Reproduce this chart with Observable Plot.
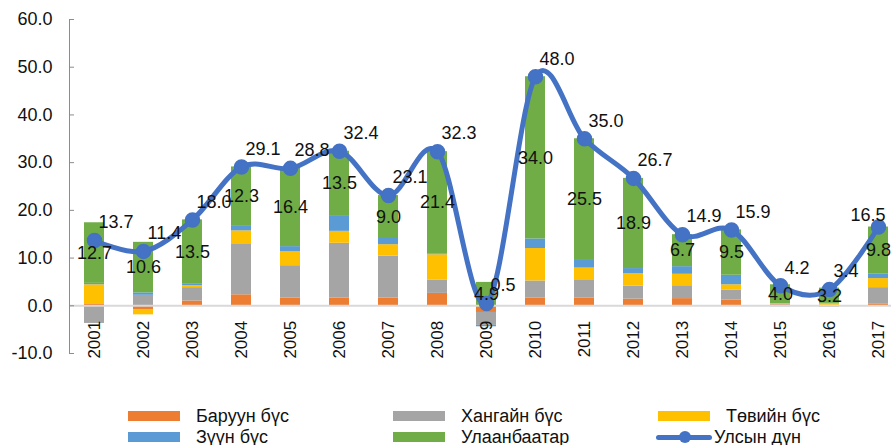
<!DOCTYPE html>
<html>
<head>
<meta charset="utf-8">
<script src="https://cdn.jsdelivr.net/npm/d3@7"></script>
<script src="https://cdn.jsdelivr.net/npm/@observablehq/plot@0.6"></script>
<style>
  html, body { margin: 0; padding: 0; background: #fff; overflow: hidden; }
  #wrap { position: relative; width: 891px; height: 445px; font-family: "Liberation Sans", Arial, sans-serif; }
  #legend .item { position: absolute; font-size: 18px; color: #111; white-space: nowrap; line-height: 18px; }
  #legend .sw { position: absolute; }
</style>
</head>
<body>
<div id="wrap"><div id="chart"></div><div id="legend"></div></div>
<script>
const years = ["2001","2002","2003","2004","2005","2006","2007","2008","2009","2010","2011","2012","2013","2014","2015","2016","2017"];
const regions = ["Баруун бүс", "Хангайн бүс", "Төвийн бүс", "Зүүн бүс", "Улаанбаатар"];
const colors = ["#ED7D31", "#A5A5A5", "#FFC000", "#5B9BD5", "#70AD47"];
const lineName = "Улсын дүн";
const lineColor = "#4472C4";

const baruun  = [0.4, -0.9, 1.0, 2.3, 1.6, 1.6, 1.6, 2.6, -1.4, 1.6, 1.6, 1.4, 1.5, 1.2, 0.2, 0.1, 0.4];
const khangai = [-3.7, 2.2, 2.8, 10.7, 6.8, 11.5, 8.8, 2.8, -2.7, 3.6, 3.7, 2.7, 2.7, 2.1, 0.1, -0.3, 3.4];
const tov     = [4.0, -1.0, 0.4, 2.7, 2.9, 2.5, 2.4, 5.3, 0.0, 6.8, 2.6, 2.6, 2.4, 1.1, 0.1, 0.3, 1.9];
const zuun    = [0.3, 0.5, 0.3, 1.1, 1.1, 3.3, 1.3, 0.2, -0.3, 2.0, 1.6, 1.1, 1.6, 2.0, -0.2, 0.1, 1.0];
const ub      = [12.7, 10.6, 13.5, 12.3, 16.4, 13.5, 9.0, 21.4, 4.9, 34.0, 25.5, 18.9, 6.7, 9.5, 4.0, 3.2, 9.8];
const total   = [13.7, 11.4, 18.0, 29.1, 28.8, 32.4, 23.1, 32.3, 0.5, 48.0, 35.0, 26.7, 14.9, 15.9, 4.2, 3.4, 16.5];
const yTicks  = [-10, 0, 10, 20, 30, 40, 50, 60];

const series = [baruun, khangai, tov, zuun, ub];
const tidy = [];
regions.forEach((r, k) => years.forEach((y, i) => tidy.push({year: y, region: r, value: series[k][i]})));
const totals = years.map((y, i) => ({year: y, value: total[i], last: i === years.length - 1}));

const fmt = v => v.toFixed(1);

const chart = Plot.plot({
  width: 891,
  height: 445,
  marginLeft: 69,
  marginRight: 0,
  marginTop: 19,
  marginBottom: 92,
  style: {fontFamily: "'Liberation Sans', Arial, sans-serif", fontSize: "18px", color: "#111", background: "#fff"},
  x: {type: "band", domain: years, range: [69, 904], paddingInner: 0.59, paddingOuter: 0.295, axis: null},
  y: {domain: [-10, 60], axis: null, label: null},
  color: {domain: regions, range: colors},
  marks: [
    Plot.barY(tidy, Plot.stackY({x: "year", y: "value", z: "region", fill: "region"})),
    Plot.ruleY([0], {stroke: "#D9D9D9", strokeWidth: 2}),
    Plot.frame({anchor: "left", stroke: "#8C8C8C"}),
    Plot.axisY({ticks: yTicks, tickSize: -5, stroke: "#8C8C8C", text: null, label: null}),
    Plot.axisY({ticks: yTicks, tickSize: 0, tickPadding: 17, tickFormat: fmt, fontSize: 18, fill: "#111", label: null}),
    Plot.text(years, {x: d => d, y: () => 0, text: d => d, rotate: -90, textAnchor: "end", dy: 15, fontSize: 17, fill: "#111"}),
    Plot.line(totals, {x: "year", y: "value", curve: "cardinal", tension: 0, stroke: lineColor, strokeWidth: 5}),
    Plot.dot(totals, {x: "year", y: "value", r: 7, fill: lineColor, stroke: lineColor}),
    Plot.text(tidy, Plot.stackY({x: "year", y: "value", z: "region",
      text: d => d.region === "Улаанбаатар" ? fmt(d.value) : "", fontSize: 18, fill: "#111"})),
    Plot.text(totals.filter(d => !d.last), {x: "year", y: "value", text: d => fmt(d.value), textAnchor: "start", dx: 4, dy: -18, fontSize: 18, fill: "#111"}),
    Plot.text(totals.filter(d => d.last), {x: "year", y: "value", text: d => fmt(d.value), textAnchor: "end", dx: 7, dy: -12, fontSize: 18, fill: "#111"})
  ]
});
document.getElementById("chart").appendChild(chart);

// legend
const legend = document.getElementById("legend");
const entries = [
  {name: regions[0], color: colors[0], col: 0, row: 0},
  {name: regions[1], color: colors[1], col: 1, row: 0},
  {name: " " + regions[2], color: colors[2], col: 2, row: 0},
  {name: regions[3], color: colors[3], col: 0, row: 1},
  {name: regions[4], color: colors[4], col: 1, row: 1},
  {name: lineName, color: lineColor, col: 2, row: 1, line: true}
];
const colX = [128, 393, 658];
const rowY = [416, 437];
entries.forEach(e => {
  const x = colX[e.col], y = rowY[e.row];
  if (e.line) {
    const s = document.createElement("div");
    s.className = "sw";
    s.style.cssText = `left:${x - 2}px;top:${y - 2.5}px;width:56px;height:5px;background:${e.color};border-radius:3px;`;
    legend.appendChild(s);
    const c = document.createElement("div");
    c.className = "sw";
    c.style.cssText = `left:${x + 21}px;top:${y - 6}px;width:12px;height:12px;background:${e.color};border-radius:50%;`;
    legend.appendChild(c);
  } else {
    const s = document.createElement("div");
    s.className = "sw";
    s.style.cssText = `left:${x}px;top:${y - 5}px;width:52px;height:10px;background:${e.color};`;
    legend.appendChild(s);
  }
  const t = document.createElement("div");
  t.className = "item";
  t.textContent = e.name;
  t.style.left = (e.line ? x + 56 : x + 68) + "px";
  t.style.top = (y - 9) + "px";
  legend.appendChild(t);
});
</script>
</body>
</html>
